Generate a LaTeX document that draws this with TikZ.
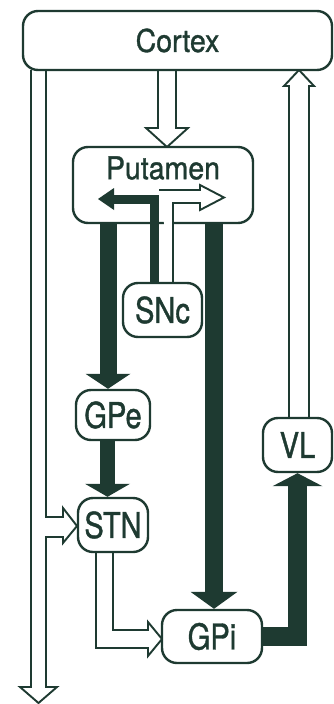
\documentclass[tikz,border=0pt]{standalone}
\usepackage{fontspec}
\setmainfont{TeX Gyre Heros}[FakeBold=1.2]
\usetikzlibrary{arrows.meta,calc}
\pgfdeclarelayer{bg}
\pgfsetlayers{bg,main}
\definecolor{dk}{HTML}{1E3A31}
\newcommand{\tallA}[1]{\scalebox{1}[1.1]{#1}}
\newcommand{\tallB}[1]{\scalebox{1.02}[1.25]{#1}}
\begin{document}
\begin{tikzpicture}[x=1pt,y=-1pt,
  box/.style={draw=dk, line width=2.4pt, rounded corners=15pt, fill=white, inner sep=0pt,
              font=\fontsize{28.5}{30}\selectfont, text=dk},
  lbl/.style={font=\fontsize{28.5}{30}\selectfont, text=dk, inner sep=0pt},
  hol/.style={draw=dk, line width=1.9pt, fill=white, line join=miter},
  blk/.style={draw=dk, line join=miter}]
\useasboundingbox (0,0) rectangle (334,704);

% boxes
\node[box, minimum width=309pt, minimum height=59pt] (cortex) at (177.5,40.5) {\tallA{Cortex}};
\node[box, minimum width=180pt, minimum height=76pt] (putamen) at (163,185) {};
\node[lbl] (putlbl) at (163,168) {\tallA{Putamen}};
\node[box, minimum width=79pt, minimum height=54pt] (snc) at (162.5,310) {\tallB{SNc}};
\node[box, minimum width=74pt, minimum height=50pt] (gpe) at (113,415) {\tallB{GPe}};
\node[box, minimum width=70pt, minimum height=54pt] (stn) at (113,525) {\tallB{STN}};
\node[box, minimum width=100pt, minimum height=53pt] (gpi) at (212,636.5) {\tallB{GPi}};
\node[box, minimum width=69pt, minimum height=54pt] (vl) at (297.5,445) {\tallB{VL}};

\coordinate (xa) at (108,0);
\coordinate (xb) at (107.5,0);
\coordinate (xc) at (214,0);
\coordinate (xd) at (154.5,0);
\coordinate (yd) at (0,199);
\coordinate (xe) at (98,0);

% hollow (excitatory) arrows, behind the boxes
\begin{pgfonlayer}{bg}
\fill[white] (0,0) rectangle (334,704);
\draw[hol] (31,70) -- (31,687) -- (20,687) -- (38.5,703) -- (57,687) -- (46,687)
  -- (46,537) -- (63,537) -- (63,543) -- (77,526) -- (63,508) -- (63,517) -- (46,517) -- (46,70);
\draw[hol] (158,70) -- (158,128) -- (146,128) -- (167,147) -- (188,128) -- (176,128) -- (176,70);
\draw[hol] (289,418) -- (289,86) -- (284,86) -- (299,70) -- (314,86) -- (309,86) -- (309,418);
\draw[hol] (96,552) -- (96,648) -- (148,648) -- (148,656) -- (162,639) -- (148,622)
  -- (148,630) -- (113,630) -- (113,552);
\end{pgfonlayer}

% hollow arrow inside putamen
\draw[hol] (159,190) -- (200,190) -- (200,185) -- (224,197.5) -- (200,210) -- (200,203)
  -- (173,203) -- (173,283);

% black (inhibitory) arrows
\draw[blk, line width=17pt, -{Triangle[width=45pt,length=15pt,line width=0pt]}]
  (putamen.south -| xa) -- (gpe.north -| xa);
\draw[blk, line width=15pt, -{Triangle[width=45pt,length=13pt,line width=0pt]}]
  (gpe.south -| xb) -- (stn.north -| xb);
\draw[blk, line width=18pt, -{Triangle[width=47pt,length=17pt,line width=0pt]}]
  (putamen.south -| xc) -- (gpi.north -| xc);
\draw[blk, line width=19pt, -{Triangle[width=50pt,length=13pt,line width=0pt]}]
  (gpi.east) -- (gpi.east -| vl.south) -- (vl.south);
\draw[blk, line width=9pt, -{Triangle[width=22pt,length=16pt,line width=0pt]}]
  (snc.north -| xd) -- (xd |- yd) -- (xe |- yd);
\end{tikzpicture}
\end{document}
